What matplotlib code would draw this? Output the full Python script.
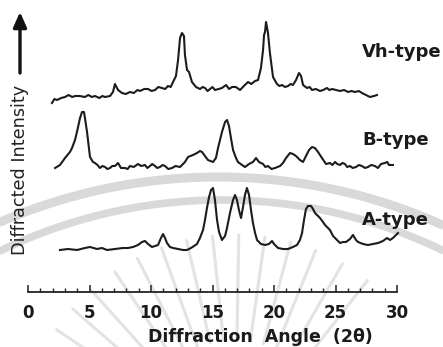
import numpy as np
import matplotlib
matplotlib.use("Agg")
import matplotlib.pyplot as plt
from matplotlib.ticker import MultipleLocator

# ---------------- data (2-theta in degrees, intensity in arbitrary units, stacked) ----------------
vh_2theta = [1.95, 2.15, 2.36, 2.70, 3.01, 3.30, 3.60, 3.82, 4.20, 4.63, 4.90, 5.20, 5.45, 5.80,
             6.05, 6.26, 6.67, 6.91, 7.07, 7.32, 7.64, 7.95, 8.29, 8.60, 8.90, 9.11, 9.45, 9.76,
             10.05, 10.33, 10.60, 10.89, 11.15, 11.38, 11.60, 11.79, 12.03, 12.20, 12.36, 12.52,
             12.68, 12.76, 12.93, 13.09, 13.33, 13.66, 13.98, 14.20, 14.39, 14.60, 14.80, 15.00,
             15.20, 15.50, 15.77, 16.10, 16.35, 16.59, 16.90, 17.24, 17.55, 17.89, 18.15, 18.46,
             18.70, 18.94, 19.11, 19.19, 19.27, 19.35, 19.43, 19.51, 19.67, 19.92, 20.24, 20.45,
             20.65, 20.90, 21.14, 21.35, 21.54, 21.79, 22.03, 22.20, 22.36, 22.68, 22.90, 23.09,
             23.40, 23.74, 24.00, 24.31, 24.50, 24.72, 25.05, 25.37, 25.70, 26.02, 26.30, 26.59,
             26.90, 27.15, 27.48, 27.80, 28.13, 28.37]
vh_intensity = [189, 193, 192, 194, 195, 197, 195, 196, 196, 195, 197, 195, 196, 194,
                196, 195, 196, 200, 208, 202, 199, 198, 200, 199, 202, 201, 203, 203,
                201, 202, 205, 204, 203, 206, 205, 210, 216, 232, 254, 259,
                256, 237, 222, 220, 210, 205, 203, 205, 204, 201, 203, 205,
                202, 203, 204, 207, 203, 205, 205, 202, 206, 210, 208, 211,
                212, 224, 242, 257, 260, 270, 265, 259, 239, 215, 208, 206,
                207, 205, 206, 208, 207, 212, 219, 216, 207, 204, 205, 202,
                203, 201, 202, 204, 202, 203, 202, 201, 202, 200, 201, 200,
                201, 199, 197, 195, 196, 197]

b_2theta = [2.20, 2.60, 3.01, 3.41, 3.58, 3.82, 3.98, 4.23, 4.39, 4.55, 4.63, 4.80, 5.04, 5.28,
            5.45, 5.65, 5.85, 6.05, 6.26, 6.45, 6.67, 6.85, 7.07, 7.32, 7.56, 7.89, 8.10, 8.29,
            8.60, 8.94, 9.20, 9.51, 9.70, 9.92, 10.10, 10.33, 10.50, 10.73, 10.95, 11.14, 11.40,
            11.71, 12.00, 12.36, 12.76, 13.01, 13.41, 13.74, 13.98, 14.15, 14.39, 14.63, 15.04,
            15.28, 15.45, 15.61, 15.77, 16.02, 16.18, 16.34, 16.50, 16.67, 16.91, 17.07, 17.40,
            17.64, 17.97, 18.29, 18.54, 18.78, 19.11, 19.30, 19.51, 19.80, 20.08, 20.49, 20.73,
            20.98, 21.30, 21.54, 21.79, 22.11, 22.36, 22.60, 22.85, 23.09, 23.33, 23.58, 23.90,
            24.23, 24.55, 24.75, 24.96, 25.15, 25.37, 25.55, 25.77, 25.95, 26.18, 26.40, 26.67,
            26.90, 27.15, 27.40, 27.64, 27.90, 28.21, 28.45, 28.70, 29.02, 29.20, 29.35, 29.67]
b_intensity = [124, 127, 134, 140, 144, 152, 160, 174, 180, 180, 174, 160, 135, 130,
               129, 127, 124, 126, 125, 123, 124, 126, 126, 129, 124, 124, 123, 126,
               125, 128, 126, 127, 124, 126, 128, 126, 124, 125, 127, 126, 123,
               124, 126, 125, 130, 135, 137, 139, 141, 140, 136, 132, 130,
               134, 144, 152, 160, 170, 172, 166, 154, 142, 134, 130, 127,
               125, 128, 130, 134, 130, 128, 125, 126, 123, 124, 126, 129,
               134, 139, 138, 136, 132, 130, 136, 142, 145, 144, 140, 134,
               128, 129, 127, 130, 128, 127, 129, 128, 125, 126, 124, 125,
               127, 126, 124, 125, 127, 126, 124, 128, 129, 130, 127, 127]

a_2theta = [2.60, 3.25, 3.98, 4.63, 5.04, 5.61, 6.02, 6.42, 7.07, 7.72, 8.13, 8.54, 8.94, 9.27,
            9.51, 9.76, 10.08, 10.33, 10.57, 10.81, 10.98, 11.14, 11.30, 11.54, 11.79, 12.20,
            12.60, 12.93, 13.25, 13.50, 13.74, 13.98, 14.23, 14.39, 14.55, 14.72, 14.88, 15.04,
            15.20, 15.37, 15.53, 15.77, 16.02, 16.18, 16.42, 16.67, 16.83, 16.99, 17.15, 17.32,
            17.48, 17.64, 17.80, 17.97, 18.13, 18.29, 18.46, 18.62, 18.94, 19.27, 19.59, 19.84,
            20.00, 20.33, 20.73, 21.14, 21.54, 21.87, 22.11, 22.28, 22.44, 22.60, 22.76, 23.01,
            23.17, 23.33, 23.58, 23.74, 23.98, 24.15, 24.39, 24.55, 24.80, 25.12, 25.37, 25.61,
            25.85, 26.18, 26.42, 26.67, 26.83, 27.24, 27.64, 28.05, 28.46, 28.86, 29.19, 29.43,
            29.67, 29.92, 30.08]
a_intensity = [42, 43, 42, 44, 45, 43, 44, 42, 43, 44, 44, 45, 47, 50,
               51, 48, 45, 46, 47, 54, 58, 54, 49, 45, 44, 43,
               42, 42, 44, 46, 48, 54, 62, 72, 84, 95, 102, 104,
               92, 72, 60, 52, 56, 64, 79, 92, 97, 92, 82, 74,
               85, 97, 104, 97, 82, 69, 59, 52, 48, 47, 48, 51,
               48, 44, 43, 43, 45, 47, 52, 59, 72, 83, 86, 86,
               83, 79, 76, 74, 70, 67, 64, 62, 56, 52, 49, 50,
               50, 53, 57, 52, 50, 48, 47, 48, 49, 51, 54, 52,
               54, 57, 59]

tick_values = [0, 5, 10, 15, 20, 25, 30]
tick_labels = ["0", "5", "10", "15", "20", "25", "30"]
series_names = ["Vh-type", "B-type", "A-type"]
label_x = [27.15, 27.15, 27.15]
label_y = [240, 152, 72]

# ---------------- figure ----------------
W, H = 443, 347
fig = plt.figure(figsize=(W / 100, H / 100), dpi=100)
fig.patch.set_facecolor("white")

# faint background watermark (arcs + rays)
bg = fig.add_axes([0, 0, 1, 1], zorder=-5)
bg.set_xlim(0, W)
bg.set_ylim(H, 0)
bg.axis("off")
for (cx, cy, r, lw) in [(218, 726, 549, 6.5), (222, 709, 509, 5.5)]:
    t = np.linspace(np.pi * 1.05, np.pi * 1.95, 300)
    bg.plot(cx + r * np.cos(t), cy + r * np.sin(t), color="#d9d9d9", lw=lw,
            solid_capstyle="butt")
ray_angles = [200, 207, 214, 221, 228, 236, 243, 250, 257, 264, 271, 278, 285, 292, 300, 308]
cx, cy = 235, 450
for a in ray_angles:
    ang = np.deg2rad(a)
    r0, r1 = 110, 215
    bg.plot([cx + r0 * np.cos(ang), cx + r1 * np.cos(ang)],
            [cy + r0 * np.sin(ang), cy + r1 * np.sin(ang)],
            color="#e3e3e3", lw=2.2, solid_capstyle="round")

ax = fig.add_axes([28 / W, 55 / H, 369 / W, 292 / H])
ax.set_facecolor("none")
ax.set_xlim(0, 30)
ax.set_ylim(0, 292)

line_color = "#1c1c1c"
for xs, ys in [(vh_2theta, vh_intensity), (b_2theta, b_intensity), (a_2theta, a_intensity)]:
    ax.plot(xs, ys, color=line_color, lw=1.5, clip_on=False, solid_joinstyle="round")

for name, lx, ly in zip(series_names, label_x, label_y):
    ax.text(lx, ly, name, fontsize=13, fontweight="bold", color="#1a1a1a",
            ha="left", va="center", clip_on=False)

for s in ["left", "top", "right"]:
    ax.spines[s].set_visible(False)
ax.spines["bottom"].set_linewidth(1.3)
ax.spines["bottom"].set_color("#222222")
ax.set_yticks([])
ax.set_xticks(tick_values)
ax.set_xticklabels(tick_labels, fontsize=12, fontweight="bold", color="#1a1a1a")
ax.xaxis.set_minor_locator(MultipleLocator(1))
ax.tick_params(axis="x", which="major", direction="in", length=5, width=1.1,
               color="#222222", pad=9)
ax.tick_params(axis="x", which="minor", direction="in", length=3, width=1.0,
               color="#222222")

fig.text(260 / W, 1 - 337 / H, "Diffraction  Angle  (2θ)", fontsize=12.5,
         fontweight="bold", color="#1a1a1a", ha="center", va="center")
fig.text(20 / W, 1 - 170 / H, "Diffracted Intensity", fontsize=12.7, rotation=90,
         color="#222222", ha="center", va="center")
ax.annotate("", xy=(20 / W, 1 - 12 / H), xytext=(20 / W, 1 - 73 / H),
            xycoords="figure fraction", textcoords="figure fraction",
            arrowprops=dict(arrowstyle="-|>,head_length=0.9,head_width=0.4",
                            lw=2.4, color="#111111", shrinkA=0, shrinkB=0))

fig.savefig("out.png", dpi=100, facecolor="white")
